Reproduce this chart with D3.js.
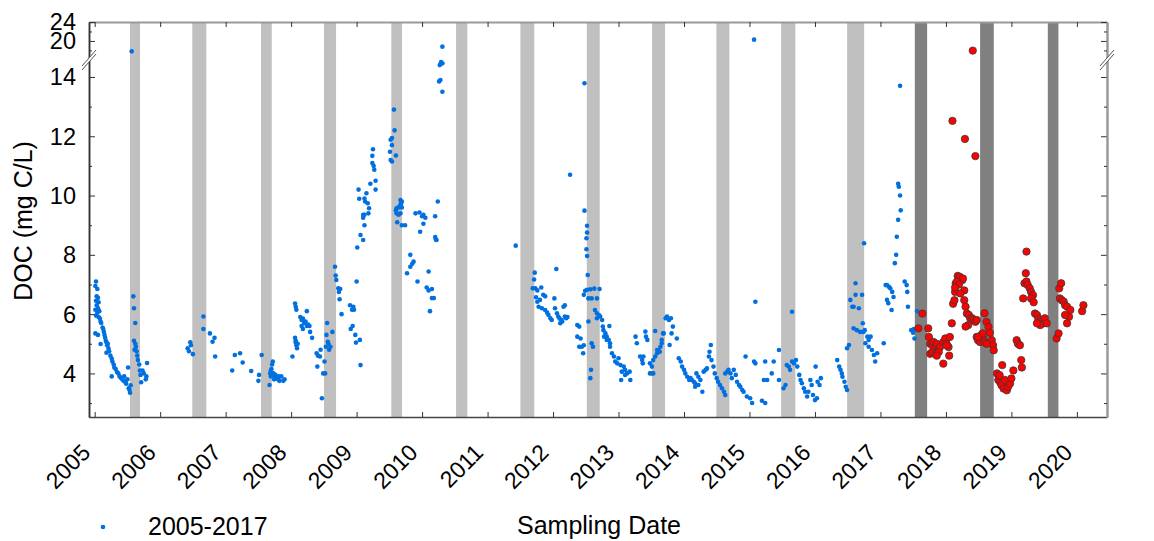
<!DOCTYPE html>
<html>
<head>
<meta charset="utf-8">
<script src="https://cdn.jsdelivr.net/npm/d3@7"></script>
<style>
  body { margin: 0; background: #fff; }
  svg { display: block; }
  text { font-family: Arial, "Liberation Sans", sans-serif; fill: #000; }
</style>
</head>
<body>
<svg id="chart" width="1154" height="541"></svg>
<script>
// ---- tick labels ----
const yearTicks = [2005, 2006, 2007, 2008, 2009, 2010, 2011, 2012, 2013, 2014, 2015, 2016, 2017, 2018, 2019, 2020];
const lowerMajorTicks = [4, 6, 8, 10, 12, 14];
const lowerMinorTicks = [3, 5, 7, 9, 11, 13];
const upperMajorTicks = [20, 24];
const upperMinorTicks = [18, 22];

// ---- shaded seasonal periods (decimal years) ----
const bands2005_2017 = [
  [2005.539, 2005.692], [2006.491, 2006.705], [2007.540, 2007.704], [2008.502, 2008.686],
  [2009.530, 2009.694], [2010.519, 2010.691], [2011.501, 2011.714], [2012.515, 2012.713],
  [2013.512, 2013.711], [2014.494, 2014.693], [2015.483, 2015.701], [2016.491, 2016.751]
];
const bands2018_2020 = [[2017.525, 2017.713], [2018.522, 2018.731], [2019.556, 2019.718]];

// ---- DOC samples 2005-2017: [decimal year, mg C/L] ----
const doc2005_2017 = [
  [2005.02,7.1],[2005.01,6.95],[2005.04,6.85],[2005.03,6.6],[2005.05,6.55],[2005.02,6.45],[2005.06,6.4],[2005.03,6.3],
  [2005.05,6.2],[2005.01,6.15],[2005.04,6.05],[2005.07,6.1],[2005.02,5.95],[2005.06,5.9],[2005.08,5.85],[2005.09,5.75],
  [2005.1,5.7],[2005.01,5.35],[2005.05,5.3],[2005.09,4.99],[2005.12,5.55],[2005.13,5.5],[2005.14,5.4],[2005.15,5.3],
  [2005.16,5.2],[2005.17,5.1],[2005.18,5.05],[2005.19,4.95],[2005.2,5.0],[2005.21,4.85],[2005.18,4.7],[2005.22,4.75],
  [2005.24,4.6],[2005.26,4.5],[2005.27,4.4],[2005.29,4.3],[2005.3,4.2],[2005.32,4.15],[2005.34,4.05],[2005.36,4.0],
  [2005.38,3.9],[2005.4,3.85],[2005.42,3.8],[2005.44,3.75],[2005.45,3.9],[2005.47,3.7],[2005.48,3.65],[2005.26,3.9],
  [2005.5,3.8],[2005.51,4.2],[2005.52,3.5],[2005.53,3.45],[2005.54,3.35],[2005.55,3.6],[2005.565,17.8],
  [2005.59,6.6],[2005.6,6.2],[2005.62,5.7],[2005.6,5.1],[2005.62,5.0],[2005.63,4.9],[2005.61,4.8],[2005.64,4.75],
  [2005.65,4.6],[2005.66,4.45],[2005.68,4.3],[2005.69,4.1],[2005.7,3.95],[2005.71,3.7],[2005.73,4.1],[2005.75,4.0],
  [2005.8,4.35],[2005.79,3.9],[2005.78,3.8],
  [2006.44,4.75],[2006.42,4.85],[2006.46,5.05],[2006.47,4.95],[2006.5,4.65],[2006.66,5.92],[2006.66,5.5],[2006.76,5.35],
  [2006.8,5.07],[2006.83,5.2],[2006.84,4.57],
  [2007.10,4.1],[2007.14,4.62],[2007.22,4.68],[2007.26,4.37],[2007.39,4.08],[2007.51,3.95],[2007.50,3.75],[2007.55,4.62],
  [2007.67,3.61],[2007.68,4.0],[2007.69,4.1],[2007.70,4.15],[2007.71,4.3],[2007.72,4.4],[2007.73,4.0],[2007.75,3.9],
  [2007.76,3.95],[2007.78,3.85],[2007.80,3.8],[2007.82,3.75],[2007.81,3.9],[2007.74,3.8],[2007.69,3.9],[2007.85,3.9],
  [2007.88,3.75],[2007.9,3.8],
  [2008.02,4.57],[2008.06,5.2],[2008.07,5.05],[2008.08,4.95],[2008.09,4.85],[2008.07,5.1],[2008.10,5.0],[2008.06,6.36],
  [2008.07,6.25],[2008.08,6.15],[2008.14,5.9],[2008.16,5.8],[2008.18,5.85],[2008.2,5.7],[2008.22,5.75],[2008.24,5.6],
  [2008.26,5.65],[2008.28,5.6],[2008.24,6.1],[2008.29,5.4],[2008.32,5.2],[2008.16,5.6],[2008.18,5.5],
  [2008.39,4.68],[2008.41,4.6],[2008.44,4.57],[2008.40,4.23],[2008.51,4.4],[2008.49,4.0],[2008.52,4.0],[2008.53,4.9],
  [2008.55,5.7],[2008.54,5.3],[2008.56,5.07],[2008.58,4.8],[2008.60,4.9],[2008.63,5.4],[2008.47,3.16],[2008.45,4.8],
  [2008.57,5.0],[2008.67,7.6],[2008.68,7.3],[2008.69,7.15],[2008.72,6.87],[2008.74,6.5],[2008.77,6.0],[2008.73,6.75],
  [2008.75,6.85],[2008.90,6.3],[2008.93,6.15],[2008.95,6.25],[2008.96,6.15],[2008.91,5.5],[2008.94,5.6],[2008.98,5.3],
  [2008.99,5.04],[2009.05,5.13],[2009.06,4.28],
  [2009.0,7.1],[2009.01,8.25],[2009.06,8.67],[2009.1,8.5],[2009.12,9.0],[2009.1,9.35],[2009.03,10.2],[2009.04,9.89],
  [2009.12,9.9],[2009.13,9.8],[2009.15,10.08],[2009.17,9.74],[2009.19,9.57],[2009.18,9.4],[2009.21,10.4],[2009.24,11.1],
  [2009.24,11.34],[2009.25,11.56],[2009.26,11.0],[2009.27,10.87],[2009.29,10.5],[2009.29,10.2],[2009.12,9.35],[2009.1,9.25],
  [2009.51,11.48],[2009.52,11.88],[2009.54,11.94],[2009.57,12.9],[2009.58,12.2],[2009.54,11.7],[2009.52,11.2],[2009.54,11.15],
  [2009.6,11.35],[2009.67,9.85],[2009.68,9.75],[2009.69,9.6],[2009.61,9.57],[2009.61,9.4],[2009.67,9.4],[2009.6,9.5],
  [2009.64,9.35],[2009.64,9.6],[2009.67,9.7],[2009.69,9.8],[2009.62,9.1],[2009.69,9.0],[2009.74,9.0],[2009.77,7.38],
  [2009.82,7.6],[2009.85,7.7],[2009.87,7.77],[2009.82,8.0],[2009.93,7.1],[2009.9,9.4],[2009.96,9.43],[2010.0,9.3],
  [2010.02,9.35],[2010.05,9.25],[2010.02,9.05],[2009.97,8.78],[2010.1,7.44],[2010.07,6.9],[2010.1,6.8],[2010.15,6.85],
  [2010.15,6.54],[2010.18,6.54],[2010.12,6.1],[2010.2,8.6],[2010.21,8.52],[2010.22,8.5],[2010.2,9.3],[2010.24,9.8],
  [2010.31,18.8],[2010.29,14.5],[2010.31,14.46],[2010.27,14.4],[2010.28,13.9],[2010.26,13.85],[2010.31,13.5],
  [2011.43,8.31],
  [2011.72,7.4],[2011.71,7.17],[2011.69,6.87],[2011.73,6.87],[2011.76,6.8],[2011.82,6.9],[2011.74,6.57],[2011.76,6.42],
  [2011.8,6.48],[2011.85,6.65],[2011.88,6.6],[2011.78,6.25],[2011.83,6.2],[2011.88,6.14],[2011.91,6.05],[2011.93,5.97],
  [2011.96,5.86],[2011.98,5.8],[2012.05,7.52],[2012.02,6.53],[2012.03,6.2],[2012.06,6.03],[2012.08,5.92],[2012.13,5.8],
  [2012.16,6.25],[2012.18,6.3],[2012.11,5.69],[2012.18,5.92],[2012.2,5.86],[2012.22,5.9],[2012.1,5.85],[2012.14,5.75],
  [2012.26,10.7],[2012.37,5.63],[2012.4,5.58],[2012.37,5.24],[2012.42,5.18],[2012.4,4.9],[2012.46,4.68],[2012.47,4.95],
  [2012.44,4.9],[2012.48,9.49],[2012.48,13.79],[2012.52,8.98],[2012.52,8.75],[2012.51,8.56],[2012.51,8.19],[2012.52,7.96],
  [2012.53,7.32],[2012.47,6.65],[2012.49,6.79],[2012.52,6.82],[2012.57,6.84],[2012.63,6.86],[2012.71,6.85],[2012.54,6.53],
  [2012.59,6.53],[2012.67,6.53],[2012.54,5.75],[2012.59,5.02],[2012.61,4.9],[2012.58,4.12],[2012.57,3.84],[2012.64,6.14],
  [2012.67,6.03],[2012.7,5.97],[2012.67,5.86],[2012.72,5.92],[2012.75,5.8],[2012.76,5.58],[2012.77,5.46],[2012.8,5.35],
  [2012.82,5.24],[2012.85,5.13],[2012.87,5.02],[2012.86,5.6],[2012.82,5.13],[2012.78,5.24],[2012.87,4.9],[2012.9,4.68],
  [2012.93,4.57],[2012.95,4.4],[2012.98,4.34],[2013.03,4.28],[2013.08,4.23],[2013.05,4.06],[2013.1,4.12],[2013.13,4.0],
  [2013.17,4.06],[2013.18,3.78],[2013.04,3.78],[2013.1,3.95],[2013.0,4.51],
  [2013.26,5.24],[2013.28,5.02],[2013.33,4.57],[2013.36,4.45],[2013.38,4.57],[2013.41,5.41],[2013.42,5.24],[2013.44,5.13],
  [2013.37,4.34],[2013.48,4.34],[2013.51,4.23],[2013.53,4.45],[2013.56,4.57],[2013.59,4.68],[2013.61,4.79],[2013.64,4.9],
  [2013.66,5.13],[2013.68,5.35],[2013.56,5.43],[2013.69,5.35],[2013.72,5.86],[2013.74,5.92],[2013.77,5.8],[2013.8,5.86],
  [2013.83,5.58],[2013.78,4.96],[2013.81,5.35],[2013.89,5.18],[2013.66,5.02],[2013.48,4.0],[2013.51,4.0],[2013.53,4.0],
  [2013.59,4.79],[2013.63,4.73],
  [2013.92,4.51],[2013.95,4.4],[2013.97,4.23],[2014.0,4.12],[2014.02,4.0],[2014.05,3.89],[2014.08,3.78],[2014.1,3.84],
  [2014.12,3.78],[2014.15,3.72],[2014.17,3.67],[2014.19,4.0],[2014.22,3.89],[2014.25,3.78],[2014.28,3.38],[2014.17,3.55],
  [2014.22,3.61],[2014.3,4.06],[2014.33,4.12],[2014.35,4.17],[2014.38,4.57],[2014.39,4.73],[2014.41,4.96],[2014.42,4.45],
  [2014.45,4.23],[2014.47,4.0],[2014.5,3.84],[2014.52,3.72],[2014.55,3.61],[2014.58,3.5],[2014.61,3.38],[2014.63,3.27],
  [2014.63,4.0],[2014.66,4.06],[2014.68,4.12],[2014.71,4.0],[2014.73,3.84],[2014.76,4.12],[2014.79,3.95],[2014.81,3.72],
  [2014.84,3.61],[2014.86,3.55],[2014.89,3.44],[2014.91,3.38],[2014.94,4.57],[2014.96,3.22],[2015.01,3.16],[2015.04,3.0],
  [2015.07,20.27],[2015.09,6.42],[2015.07,4.4],[2015.09,4.34],[2015.19,3.08],[2015.24,4.4],[2015.24,3.0],[2015.27,3.78],
  [2015.22,3.78],[2015.34,4.0],[2015.37,4.4],[2015.45,3.78],[2015.45,4.79],[2015.52,3.5],[2015.55,3.61],[2015.57,4.28],
  [2015.6,4.23],[2015.62,4.12],[2015.65,6.08],[2015.65,4.4],[2015.68,4.34],[2015.71,4.45],[2015.73,4.23],[2015.76,3.95],
  [2015.78,3.78],[2015.8,3.67],[2015.83,3.5],[2015.85,3.38],[2015.88,3.22],[2015.9,3.38],[2015.93,3.78],[2015.95,3.61],
  [2015.97,3.27],[2016.0,3.1],[2016.01,4.23],[2016.04,3.72],[2016.07,3.61],[2016.09,3.84],[2016.03,3.16],
  [2016.34,4.45],[2016.37,4.23],[2016.39,4.12],[2016.41,4.0],[2016.42,3.89],[2016.45,3.72],[2016.47,3.55],[2016.49,3.44],
  [2016.49,4.85],[2016.52,4.96],[2016.54,6.48],[2016.57,6.25],[2016.59,6.25],[2016.62,7.04],[2016.62,6.65],[2016.67,6.2],
  [2016.72,6.65],[2016.75,8.39],[2016.73,5.69],[2016.59,5.52],[2016.64,5.46],[2016.69,5.4],[2016.74,5.4],[2016.76,5.46],
  [2016.8,5.24],[2016.77,5.02],[2016.82,5.13],[2016.82,4.9],[2016.85,5.24],[2016.87,4.79],[2016.9,4.62],[2016.92,4.4],
  [2016.95,4.68],[2017.05,5.02],
  [2017.08,6.98],[2017.1,6.98],[2017.13,6.92],[2017.15,6.87],[2017.18,6.75],[2017.2,6.58],[2017.1,6.48],[2017.12,6.37],
  [2017.17,6.14],[2017.22,7.72],[2017.24,8.0],[2017.25,8.61],[2017.27,9.18],[2017.31,9.5],[2017.3,10.0],[2017.28,10.3],
  [2017.27,10.4],[2017.3,13.7],[2017.37,7.1],[2017.4,6.98],[2017.41,6.75],[2017.42,6.25],[2017.47,5.46],[2017.5,5.37],
  [2017.52,5.18],[2017.56,6.1],[2017.51,5.5]
];

// ---- DOC samples 2017-2020: [decimal year, mg C/L] ----
const doc2018_2020 = [
  [2017.58,5.52],[2017.64,6.02],[2017.73,5.52],[2017.74,5.23],[2017.76,5.0],[2017.79,4.95],[2017.81,5.06],[2017.84,4.89],
  [2017.86,5.0],[2017.89,4.83],[2017.91,4.89],[2017.76,4.66],[2017.79,4.72],[2017.84,4.66],[2017.89,4.72],[2017.86,4.6],
  [2017.96,5.06],[2017.99,5.18],[2018.01,5.0],[2018.04,4.89],[2018.06,5.23],[2017.96,4.33],[2018.05,4.6],[2018.01,4.95],
  [2018.09,5.69],[2018.11,6.35],[2018.13,6.47],[2018.14,6.75],[2018.15,7.04],[2018.18,7.29],[2018.21,7.26],[2018.25,7.15],
  [2018.26,7.2],[2018.17,7.1],[2018.2,7.0],[2018.14,6.9],[2018.28,6.8],[2018.22,6.7],[2018.28,6.47],[2018.3,6.25],
  [2018.32,6.02],[2018.35,5.97],[2018.37,5.86],[2018.34,5.63],[2018.3,5.58],[2018.4,5.86],[2018.42,5.8],[2018.45,5.74],
  [2018.47,5.8],[2018.59,6.03],[2018.62,5.74],[2018.65,5.57],[2018.67,5.37],[2018.7,5.12],[2018.72,4.95],[2018.73,4.78],
  [2018.47,5.23],[2018.49,5.12],[2018.52,5.06],[2018.54,5.3],[2018.57,5.18],[2018.59,5.06],[2018.62,5.0],[2018.56,5.35],
  [2018.49,5.23],
  [2018.1,12.52],[2018.29,11.91],[2018.45,11.33],[2018.41,17.96],
  [2018.78,4.0],[2018.8,3.78],[2018.83,3.69],[2018.85,3.6],[2018.88,3.49],[2018.9,3.78],[2018.93,3.43],[2018.95,3.55],
  [2018.98,3.66],[2019.0,3.83],[2019.03,4.1],[2018.86,4.28],[2018.82,3.94],
  [2019.08,5.12],[2019.1,5.0],[2019.13,4.95],[2019.15,4.45],[2019.16,4.2],
  [2019.23,8.11],[2019.22,7.38],[2019.2,7.04],[2019.23,7.1],[2019.25,6.98],[2019.28,6.87],[2019.3,6.75],[2019.33,6.64],
  [2019.18,6.53],[2019.3,6.53],[2019.34,6.4],[2019.36,6.02],[2019.39,5.97],[2019.41,5.86],[2019.44,5.8],[2019.46,5.74],
  [2019.49,5.69],[2019.51,5.86],[2019.54,5.69],[2019.44,5.63],[2019.39,5.69],
  [2019.69,5.18],[2019.72,5.35],[2019.73,6.87],[2019.76,7.04],[2019.74,6.53],[2019.77,6.47],[2019.8,6.42],[2019.82,6.3],
  [2019.85,6.25],[2019.88,5.91],[2019.9,6.14],[2019.82,5.97],[2019.85,5.69],[2020.08,6.1],[2020.1,6.3]
];

// ---- layout ----
const plot = { left: 89, right: 1107, top: 22, bottom: 417 };
const breakY = 58;           // pixel row where the y axis is broken
const breakValue = 15.5;     // values above this go to the upper segment

const svg = d3.select("#chart");

const x = d3.scaleLinear().domain([2004.913, 2020.46]).range([plot.left, plot.right]);
const yLow = d3.scaleLinear().domain([2.53, 14.64]).range([plot.bottom, breakY]);
const yHigh = d3.scaleLinear().domain([16.4, 24]).range([breakY, plot.top]);
const y = v => (v < breakValue ? yLow(v) : yHigh(v));

// seasonal shading
const bandH = plot.bottom - plot.top;
svg.append("g").selectAll("rect").data(bands2005_2017).join("rect")
  .attr("x", d => x(d[0])).attr("width", d => x(d[1]) - x(d[0]))
  .attr("y", plot.top).attr("height", bandH).attr("fill", "#c0c0c0");
svg.append("g").selectAll("rect").data(bands2018_2020).join("rect")
  .attr("x", d => x(d[0])).attr("width", d => x(d[1]) - x(d[0]))
  .attr("y", plot.top).attr("height", bandH).attr("fill", "#808080");

// axes (all ticks point inward)
function styleAxis(g, color, width) {
  g.select(".domain").attr("stroke", color).attr("stroke-width", width);
  g.selectAll(".tick line").attr("stroke", "#333").attr("stroke-width", 1);
  g.selectAll("text").remove();
}

// bottom and top
svg.append("g").attr("transform", `translate(0,${plot.bottom})`)
  .call(d3.axisBottom(x).tickValues(yearTicks).tickSize(-5).tickSizeOuter(0))
  .call(g => styleAxis(g, "#444", 1.5));
svg.append("g").attr("transform", `translate(0,${plot.top})`)
  .call(d3.axisTop(x).tickValues(yearTicks).tickSize(-5).tickSizeOuter(0))
  .call(g => styleAxis(g, "#9a9a9a", 2));

// left and right axes: lower and upper segments, major + minor ticks
function yAxisSet(side, xPos, domainColor, domainWidth) {
  const make = side === "left" ? d3.axisLeft : d3.axisRight;
  const g = svg.append("g").attr("transform", `translate(${xPos},0)`);
  g.append("g").call(make(yLow).tickValues(lowerMajorTicks).tickSize(-6).tickSizeOuter(0))
    .call(a => styleAxis(a, domainColor, domainWidth));
  g.append("g").call(make(yLow).tickValues(lowerMinorTicks).tickSize(-3).tickSizeOuter(0))
    .call(a => styleAxis(a, domainColor, domainWidth));
  g.append("g").call(make(yHigh).tickValues(upperMajorTicks).tickSize(-6).tickSizeOuter(0))
    .call(a => styleAxis(a, domainColor, domainWidth));
  g.append("g").call(make(yHigh).tickValues(upperMinorTicks).tickSize(-3).tickSizeOuter(0))
    .call(a => styleAxis(a, domainColor, domainWidth));
}
yAxisSet("left", plot.left, "#333", 1.5);
yAxisSet("right", plot.right, "#9a9a9a", 2);

// y tick labels
const yLabels = svg.append("g").attr("font-size", 23.5).attr("text-anchor", "end");
yLabels.selectAll("text.low").data(lowerMajorTicks).join("text").attr("class", "low")
  .attr("x", plot.left - 13).attr("y", d => yLow(d)).attr("dy", "0.36em").text(d => d);
yLabels.selectAll("text.high").data(upperMajorTicks).join("text").attr("class", "high")
  .attr("x", plot.left - 13).attr("y", d => yHigh(d)).attr("dy", "0.36em").text(d => d);

// x tick labels, rotated
svg.append("g").attr("font-size", 23).attr("text-anchor", "end")
  .selectAll("text").data(yearTicks).join("text")
  .attr("transform", d => `translate(${x(d) - 3},${plot.bottom + 37}) rotate(-45)`)
  .text(d => d);

// axis break marks
function breakMark(cx, cy) {
  const g = svg.append("g");
  const dx = 7, dy = 8, gap = 4;
  g.append("path")
    .attr("d", `M${cx - dx},${cy + dy - gap / 2}L${cx + dx},${cy - dy - gap / 2}L${cx + dx},${cy - dy + gap / 2}L${cx - dx},${cy + dy + gap / 2}Z`)
    .attr("fill", "#fff");
  [-gap / 2, gap / 2].forEach(o => {
    g.append("line").attr("x1", cx - dx).attr("y1", cy + dy + o).attr("x2", cx + dx).attr("y2", cy - dy + o)
      .attr("stroke", "#555").attr("stroke-width", 1);
  });
}
breakMark(plot.left, breakY + 2);
breakMark(plot.right, breakY + 2);

// data points
svg.append("g").selectAll("circle").data(doc2005_2017).join("circle")
  .attr("cx", d => x(d[0])).attr("cy", d => y(d[1])).attr("r", 2.3)
  .attr("fill", "#0070e0");
svg.append("g").selectAll("circle").data(doc2018_2020).join("circle")
  .attr("cx", d => x(d[0])).attr("cy", d => y(d[1])).attr("r", 3.7)
  .attr("fill", "#ff0000").attr("stroke", "#3a3a3a").attr("stroke-width", 0.8);

// axis titles
svg.append("text").attr("transform", "translate(32,221) rotate(-90)")
  .attr("text-anchor", "middle").attr("font-size", 25).text("DOC (mg C/L)");
svg.append("text").attr("x", 599).attr("y", 534)
  .attr("text-anchor", "middle").attr("font-size", 25).text("Sampling Date");

// legend
svg.append("circle").attr("cx", 103).attr("cy", 527).attr("r", 2.3).attr("fill", "#0070e0");
svg.append("text").attr("x", 148).attr("y", 535).attr("font-size", 25).text("2005-2017");
</script>
</body>
</html>
